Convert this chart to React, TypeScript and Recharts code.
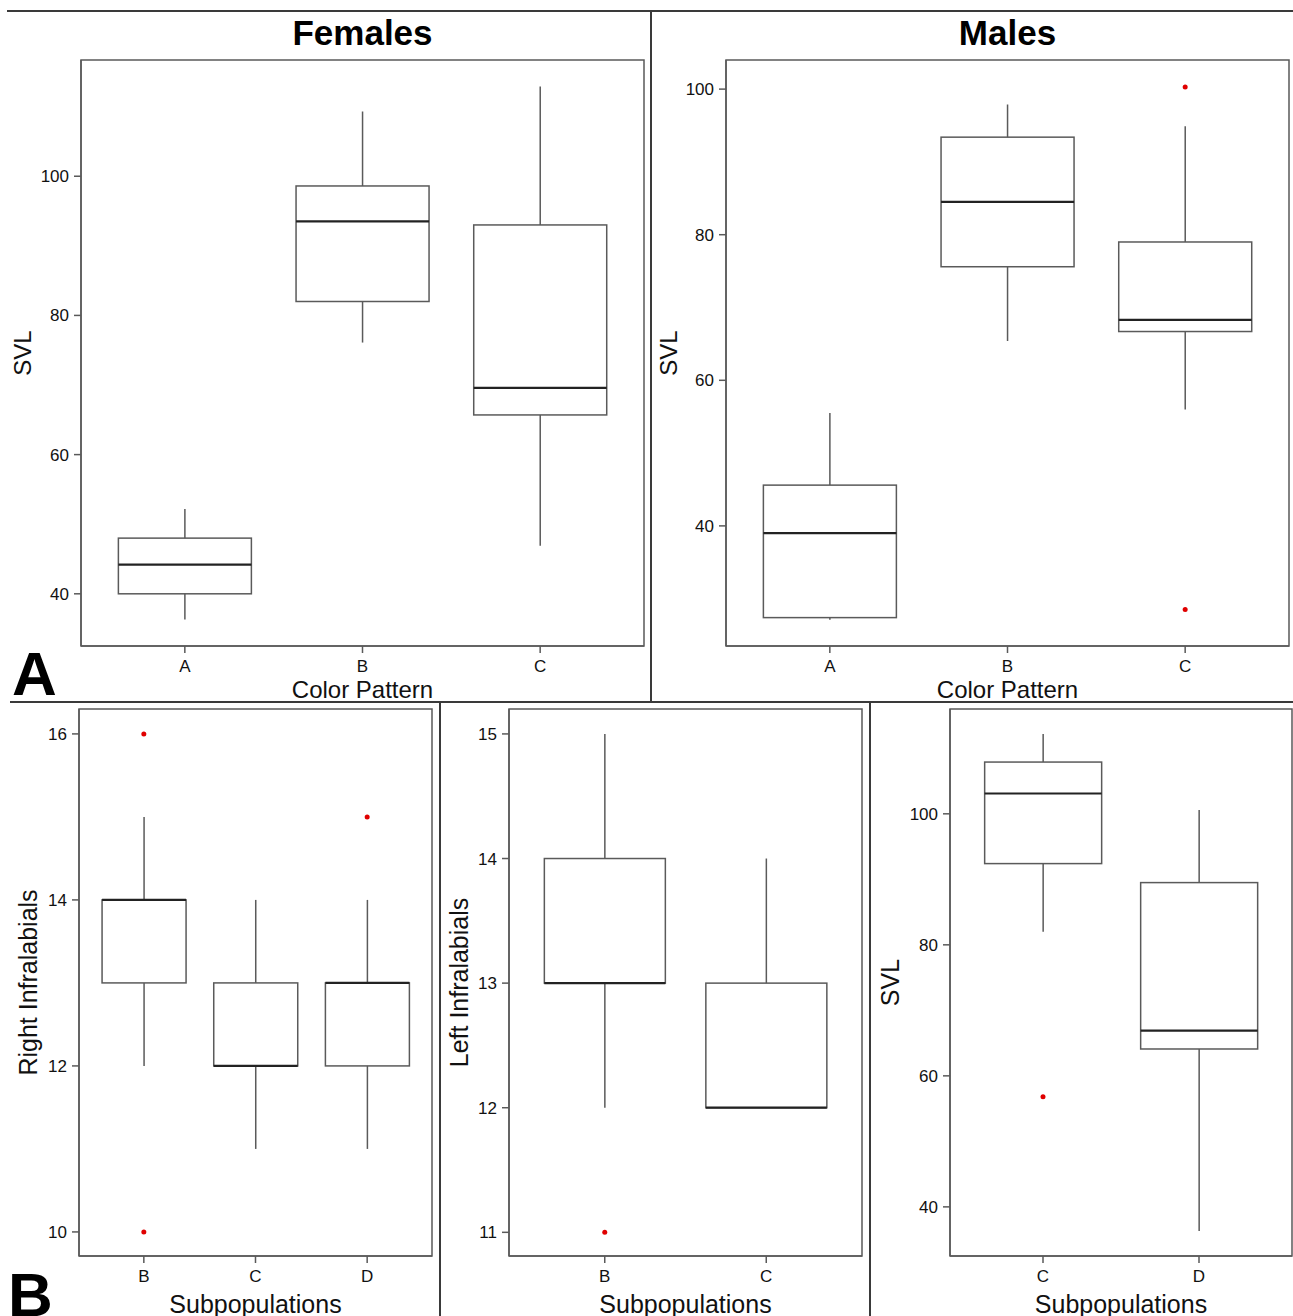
import { ComposedChart, Bar, Line, XAxis, YAxis, ReferenceArea } from "recharts";

const FONT = '"Liberation Sans", Arial, Helvetica, sans-serif';
const LINE = "#5a5a5a";
const MEDIAN = "#222";
const OUTLIER = "#e00000";

// A, females: SVL by color pattern
const femGroups = ["A", "B", "C"];
const femLow = [36.3, 76.1, 46.9];
const femQ1 = [40.0, 82.0, 65.7];
const femMed = [44.2, 93.5, 69.6];
const femQ3 = [48.0, 98.6, 93.0];
const femHigh = [52.2, 109.3, 112.9];
const femOutHi = [null, null, null];
const femOutLo = [null, null, null];
const femTicks = [40, 60, 80, 100];

// A, males: SVL by color pattern
const maleGroups = ["A", "B", "C"];
const maleLow = [27.1, 65.4, 56.0];
const maleQ1 = [27.4, 75.6, 66.7];
const maleMed = [39.0, 84.5, 68.3];
const maleQ3 = [45.6, 93.4, 79.0];
const maleHigh = [55.5, 97.9, 94.9];
const maleOutHi = [null, null, 100.3];
const maleOutLo = [null, null, 28.5];
const maleTicks = [40, 60, 80, 100];

// B: right infralabials by subpopulation
const rightGroups = ["B", "C", "D"];
const rightLow = [12, 11, 11];
const rightQ1 = [13, 12, 12];
const rightMed = [14, 12, 13];
const rightQ3 = [14, 13, 13];
const rightHigh = [15, 14, 14];
const rightOutHi = [16, null, 15];
const rightOutLo = [10, null, null];
const rightTicks = [10, 12, 14, 16];

// B: left infralabials by subpopulation
const leftGroups = ["B", "C"];
const leftLow = [12, 12];
const leftQ1 = [13, 12];
const leftMed = [13, 12];
const leftQ3 = [14, 13];
const leftHigh = [15, 14];
const leftOutHi = [null, null];
const leftOutLo = [11, null];
const leftTicks = [11, 12, 13, 14, 15];

// B: SVL by subpopulation
const svlGroups = ["C", "D"];
const svlLow = [82.0, 36.3];
const svlQ1 = [92.4, 64.1];
const svlMed = [103.1, 66.9];
const svlQ3 = [107.9, 89.5];
const svlHigh = [112.2, 100.6];
const svlOutHi = [null, null];
const svlOutLo = [56.8, null];
const svlTicks = [40, 60, 80, 100];

function makeRows(groups, low, q1, med, q3, high, outHi, outLo) {
  return groups.map((name, i) => ({
    name,
    range: [low[i], high[i]],
    low: low[i],
    q1: q1[i],
    med: med[i],
    q3: q3[i],
    high: high[i],
    outHi: outHi[i],
    outLo: outLo[i],
  }));
}

function BoxShape(props: any) {
  const { x, y, width, height, payload } = props;
  const top = Math.min(y, y + height);
  const bottom = Math.max(y, y + height);
  const span = payload.high - payload.low;
  const py = (v: number) => bottom - ((v - payload.low) / span) * (bottom - top);
  const cx = x + width / 2;
  return (
    <g>
      <line x1={cx} x2={cx} y1={py(payload.high)} y2={py(payload.q3)} stroke={LINE} strokeWidth={1.5} />
      <line x1={cx} x2={cx} y1={py(payload.q1)} y2={py(payload.low)} stroke={LINE} strokeWidth={1.5} />
      <rect
        x={x}
        y={py(payload.q3)}
        width={width}
        height={py(payload.q1) - py(payload.q3)}
        fill="none"
        stroke={LINE}
        strokeWidth={1.5}
      />
      <line x1={x} x2={x + width} y1={py(payload.med)} y2={py(payload.med)} stroke={MEDIAN} strokeWidth={2.2} />
    </g>
  );
}

const frameLine = { stroke: LINE, strokeWidth: 1.5 };

function BoxPanel({ rows, domain, ticks, width, height, margin, pad, xHeight, yLabel, yLabelX, xLabel, labelSize }) {
  const xLabelContent = ({ viewBox }: any) => (
    <text
      x={viewBox.x + viewBox.width / 2}
      y={viewBox.y + viewBox.height - 3}
      textAnchor="middle"
      fontSize={labelSize}
      fontFamily={FONT}
      fill="#111"
    >
      {xLabel}
    </text>
  );
  const yLabelContent = ({ viewBox }: any) => {
    const cy = viewBox.y + viewBox.height / 2;
    return (
      <text
        x={yLabelX}
        y={cy}
        transform={`rotate(-90 ${yLabelX} ${cy})`}
        textAnchor="middle"
        dominantBaseline="central"
        fontSize={labelSize}
        fontFamily={FONT}
        fill="#111"
      >
        {yLabel}
      </text>
    );
  };
  return (
    <ComposedChart width={width} height={height} data={rows} margin={margin} barCategoryGap="12.6%">
      <XAxis
        dataKey="name"
        type="category"
        interval={0}
        height={xHeight}
        padding={{ left: pad, right: pad }}
        axisLine={frameLine}
        tickSize={7}
        tickMargin={7}
        tickLine={frameLine}
        tick={{ fill: "#111", fontSize: 17, fontFamily: FONT }}
        label={{ content: xLabelContent }}
      />
      <XAxis xAxisId="frame" dataKey="name" type="category" hide />
      <YAxis
        type="number"
        domain={domain}
        ticks={ticks}
        interval={0}
        allowDataOverflow
        width={60}
        axisLine={frameLine}
        tickSize={7}
        tickMargin={5}
        tickLine={frameLine}
        tick={{ fill: "#111", fontSize: 17, fontFamily: FONT }}
        label={{ content: yLabelContent }}
      />
      <ReferenceArea
        xAxisId="frame"
        y1={domain[0]}
        y2={domain[1]}
        fill="none"
        stroke={LINE}
        strokeWidth={1.5}
        ifOverflow="visible"
      />
      <Bar dataKey="range" shape={BoxShape} isAnimationActive={false} legendType="none" />
      <Line dataKey="outHi" stroke="none" dot={{ r: 2.5, fill: OUTLIER, stroke: "none" }} activeDot={false} isAnimationActive={false} legendType="none" />
      <Line dataKey="outLo" stroke="none" dot={{ r: 2.5, fill: OUTLIER, stroke: "none" }} activeDot={false} isAnimationActive={false} legendType="none" />
    </ComposedChart>
  );
}

const rule = (left: number, top: number, w: number, h: number) => (
  <div style={{ position: "absolute", left, top, width: w, height: h, background: "#3a3a3a" }} />
);

const titleStyle = (left: number, width: number) => ({
  position: "absolute" as const,
  left,
  width,
  top: 13,
  textAlign: "center" as const,
  fontFamily: FONT,
  fontWeight: 700,
  fontSize: 35,
  lineHeight: "40px",
  color: "#000",
});

const letterStyle = (left: number, top: number) => ({
  position: "absolute" as const,
  left,
  top,
  fontFamily: FONT,
  fontWeight: 700,
  fontSize: 62,
  lineHeight: "62px",
  color: "#000",
});

export default function App() {
  return (
    <div style={{ position: "absolute", left: 0, top: 0, width: 1293, height: 1316, background: "#fff", overflow: "hidden" }}>
      <div style={{ position: "absolute", left: 0, top: 0 }}>
        <BoxPanel
          rows={makeRows(femGroups, femLow, femQ1, femMed, femQ3, femHigh, femOutHi, femOutLo)}
          domain={[32.5, 116.7]}
          ticks={femTicks}
          width={651}
          height={711}
          margin={{ top: 60, right: 7, bottom: 10, left: 21 }}
          pad={15}
          xHeight={55}
          yLabel="SVL"
          yLabelX={22}
          xLabel="Color Pattern"
          labelSize={24}
        />
      </div>
      <div style={{ position: "absolute", left: 651, top: 0 }}>
        <BoxPanel
          rows={makeRows(maleGroups, maleLow, maleQ1, maleMed, maleQ3, maleHigh, maleOutHi, maleOutLo)}
          domain={[23.5, 104]}
          ticks={maleTicks}
          width={642}
          height={711}
          margin={{ top: 60, right: 4, bottom: 10, left: 15 }}
          pad={15}
          xHeight={55}
          yLabel="SVL"
          yLabelX={17}
          xLabel="Color Pattern"
          labelSize={24}
        />
      </div>
      <div style={{ position: "absolute", left: 0, top: 701 }}>
        <BoxPanel
          rows={makeRows(rightGroups, rightLow, rightQ1, rightMed, rightQ3, rightHigh, rightOutHi, rightOutLo)}
          domain={[9.71, 16.3]}
          ticks={rightTicks}
          width={440}
          height={625}
          margin={{ top: 8, right: 8, bottom: 10, left: 19 }}
          pad={9}
          xHeight={60}
          yLabel="Right Infralabials"
          yLabelX={28}
          xLabel="Subpopulations"
          labelSize={25}
        />
      </div>
      <div style={{ position: "absolute", left: 440, top: 701 }}>
        <BoxPanel
          rows={makeRows(leftGroups, leftLow, leftQ1, leftMed, leftQ3, leftHigh, leftOutHi, leftOutLo)}
          domain={[10.81, 15.2]}
          ticks={leftTicks}
          width={430}
          height={625}
          margin={{ top: 8, right: 8, bottom: 10, left: 9 }}
          pad={15}
          xHeight={60}
          yLabel="Left Infralabials"
          yLabelX={19}
          xLabel="Subpopulations"
          labelSize={25}
        />
      </div>
      <div style={{ position: "absolute", left: 870, top: 701 }}>
        <BoxPanel
          rows={makeRows(svlGroups, svlLow, svlQ1, svlMed, svlQ3, svlHigh, svlOutHi, svlOutLo)}
          domain={[32.5, 116]}
          ticks={svlTicks}
          width={423}
          height={625}
          margin={{ top: 8, right: 1, bottom: 10, left: 20 }}
          pad={15}
          xHeight={60}
          yLabel="SVL"
          yLabelX={20}
          xLabel="Subpopulations"
          labelSize={25}
        />
      </div>

      {rule(7, 10, 1286, 2)}
      {rule(650, 11, 2, 691)}
      {rule(10, 701, 1283, 2)}
      {rule(439, 702, 2, 614)}
      {rule(869, 702, 2, 614)}

      <div style={titleStyle(81, 563)}>Females</div>
      <div style={titleStyle(726, 563)}>Males</div>
      <div style={letterStyle(12, 643)}>A</div>
      <div style={letterStyle(8, 1264)}>B</div>
    </div>
  );
}
